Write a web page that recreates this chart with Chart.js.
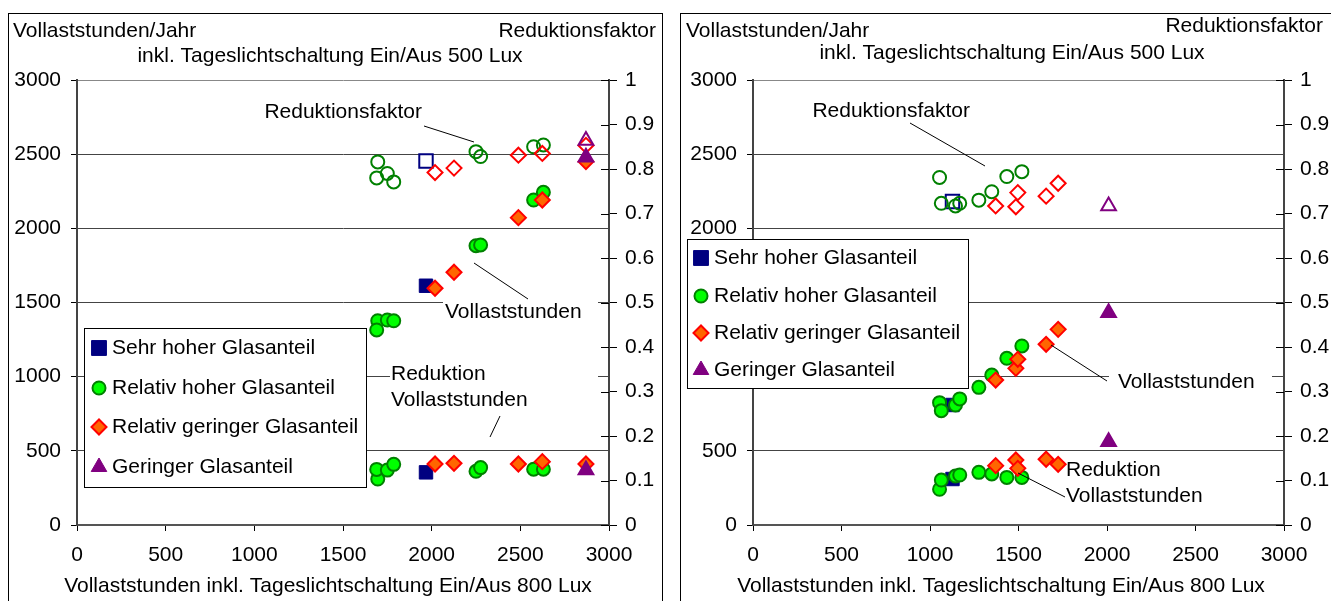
<!DOCTYPE html>
<html lang="de">
<head>
<meta charset="utf-8">
<title>Vollaststunden und Reduktionsfaktor</title>
<script src="https://cdn.jsdelivr.net/npm/chart.js@4.4.1/dist/chart.umd.min.js"></script>
<style>
  html, body { margin: 0; padding: 0; background: #fff; }
  body { width: 1331px; height: 601px; overflow: hidden; position: relative; }
  .panel { position: absolute; top: 13px; width: 655px; height: 620px; border: 1px solid #000; box-sizing: border-box; background: #fff; }
  #panelLeft { left: 8px; }
  #panelRight { left: 680px; }
  .panel canvas { position: absolute; left: 0; top: 0; }
</style>
</head>
<body>
<div class="panel" id="panelLeft"><canvas id="chartLeft" width="653" height="587"></canvas></div>
<div class="panel" id="panelRight"><canvas id="chartRight" width="653" height="587"></canvas></div>
<script>
const groups = ['Sehr hoher Glasanteil', 'Relativ hoher Glasanteil', 'Relativ geringer Glasanteil', 'Geringer Glasanteil'];
const hourTicks = [0, 500, 1000, 1500, 2000, 2500, 3000];
const factorTicks = [0, 0.1, 0.2, 0.3, 0.4, 0.5, 0.6, 0.7, 0.8, 0.9, 1];

// links: x = Vollaststunden bei 800 Lux, je Gruppe eine Liste
const leftX    = [[1968], [1696, 1690, 1750, 1786, 2250, 2276, 2575, 2630], [2019, 2126, 2489, 2624, 2870], [2870]];
const leftVoll = [[1613], [1377, 1315, 1382, 1377, 1883, 1888, 2191, 2243], [1596, 1704, 2072, 2191, 2450], [2480]];
const leftRed  = [[355],  [310, 375, 370, 409, 362, 387, 376, 376],         [411, 416, 411, 427, 411],      [371]];
const leftFak  = [[0.818], [0.816, 0.780, 0.790, 0.771, 0.839, 0.828, 0.850, 0.854], [0.792, 0.802, 0.831, 0.835, 0.853], [0.864]];

// rechts
const rightX    = [[1127], [1054, 1064, 1144, 1168, 1276, 1349, 1434, 1519], [1371, 1485, 1496, 1656, 1724], [2009]];
const rightVoll = [[809],  [825, 771, 809, 850, 928, 1011, 1124, 1207],     [977, 1056, 1117, 1218, 1319],  [1431]];
const rightRed  = [[310],  [241, 303, 330, 337, 355, 344, 321, 321],        [400, 438, 382, 443, 409],      [562]];
const rightFak  = [[0.727], [0.781, 0.723, 0.717, 0.723, 0.730, 0.749, 0.783, 0.794], [0.717, 0.715, 0.747, 0.739, 0.768], [0.717]];

const FONT = "'Liberation Sans', Arial, sans-serif";
const FS = 21;

const styles = [
  { shape: 'rect',     r: 9.5, fill: '#000080', line: '#000080', order: 3, lr: 10.5 },
  { shape: 'circle',   r: 6.5, fill: '#00ff00', line: '#008000', order: 2, lr: 6.5 },
  { shape: 'rectRot',  r: 7.5, fill: '#ff6600', line: '#ff0000', order: 1, lr: 7.5 },
  { shape: 'triangle', r: 8.5, fill: '#800080', line: '#800080', order: 0, lr: 9 },
];

function buildDatasets(xs, voll, red, fak) {
  const out = [];
  groups.forEach((name, g) => {
    const st = styles[g];
    const pts = vals => xs[g].map((x, i) => ({ x: x, y: vals[g][i] }));
    const base = {
      pointStyle: st.shape, pointRadius: st.r, pointHoverRadius: st.r,
      order: st.order, clip: false
    };
    out.push(Object.assign({ label: name, data: pts(voll), yAxisID: 'y',
      pointBackgroundColor: st.fill, pointBorderColor: st.line, pointBorderWidth: g === 0 ? 1 : 2 }, base));
    out.push(Object.assign({ label: name + ' (Reduktion)', data: pts(red), yAxisID: 'y',
      pointBackgroundColor: st.fill, pointBorderColor: st.line, pointBorderWidth: g === 0 ? 1 : 2 }, base));
    out.push(Object.assign({ label: name + ' (Reduktionsfaktor)', data: pts(fak), yAxisID: 'y2',
      pointBackgroundColor: 'rgba(0,0,0,0)', pointBorderColor: g === 2 ? '#ff0000' : st.line, pointBorderWidth: 2 }, base));
  });
  return out;
}

function makeScales(leftW, rightW) {
  const font = { family: FONT, size: FS };
  return {
    x: {
      type: 'linear', min: 0, max: 3000,
      afterBuildTicks: s => { s.ticks = hourTicks.map(v => ({ value: v })); },
      afterFit: s => { s.height = 76; },
      ticks: { callback: v => String(v), padding: 12, color: '#000', font: font, maxRotation: 0, autoSkip: false },
      grid: { drawOnChartArea: false, tickLength: 6, tickColor: '#000', tickWidth: 1 },
      border: { color: '#555', width: 2 }
    },
    y: {
      type: 'linear', position: 'left', min: 0, max: 3000,
      afterBuildTicks: s => { s.ticks = hourTicks.map(v => ({ value: v })); },
      afterFit: s => { s.width = leftW; },
      ticks: { callback: v => String(v), padding: 10, color: '#000', font: font },
      grid: { color: c => c.tick && c.tick.value === 3000 ? '#888' : '#444', tickLength: 6, tickColor: '#000', tickWidth: 1 },
      border: { color: '#444', width: 2 }
    },
    y2: {
      type: 'linear', position: 'right', min: 0, max: 1,
      afterBuildTicks: s => { s.ticks = factorTicks.map(v => ({ value: v })); },
      afterFit: s => { s.width = rightW; },
      ticks: { callback: v => String(v), padding: 8, color: '#000', font: font },
      grid: { drawOnChartArea: false, tickLength: 8, tickColor: '#000', tickWidth: 1 },
      border: { color: '#444', width: 2 }
    }
  };
}

// Beschriftungen, Hinweistexte, Legende und innere Striche der rechten Achse
const overlay = {
  id: 'overlay',
  afterDraw(chart, args, o) {
    const ctx = chart.ctx;
    ctx.save();
    ctx.font = FS + 'px ' + FONT;
    ctx.textBaseline = 'middle';
    ctx.lineWidth = 1;
    ctx.strokeStyle = '#000';

    const y2 = chart.scales.y2;
    y2.ticks.forEach(t => {
      const py = Math.round(y2.getPixelForValue(t.value)) + 0.5;
      ctx.beginPath(); ctx.moveTo(y2.left - 8, py); ctx.lineTo(y2.left, py); ctx.stroke();
    });

    ctx.fillStyle = '#000';
    o.texts.forEach(t => { ctx.textAlign = t.align || 'left'; ctx.fillText(t.text, t.x, t.y); });

    o.notes.forEach(n => {
      if (n.box) { ctx.fillStyle = '#fff'; ctx.fillRect(n.box[0], n.box[1], n.box[2], n.box[3]); }
      ctx.fillStyle = '#000';
      ctx.textAlign = n.align || 'left';
      n.lines.forEach((s, i) => ctx.fillText(s, n.x, n.y + i * 26.5));
      ctx.beginPath(); ctx.moveTo(n.lead[0], n.lead[1]); ctx.lineTo(n.lead[2], n.lead[3]); ctx.stroke();
    });

    const L = o.legend;
    ctx.fillStyle = '#fff';
    ctx.fillRect(L.x, L.y, L.w, L.h);
    ctx.strokeStyle = '#000';
    ctx.strokeRect(L.x + 0.5, L.y + 0.5, L.w - 1, L.h - 1);
    groups.forEach((name, g) => {
      const st = styles[g];
      ctx.fillStyle = st.fill;
      ctx.strokeStyle = st.line;
      ctx.lineWidth = g === 1 || g === 2 ? 2 : 1;
      Chart.helpers.drawPoint(ctx, { pointStyle: st.shape, radius: st.lr, rotation: 0, borderWidth: ctx.lineWidth }, L.markX, L.rows[g]);
      ctx.fillStyle = '#000';
      ctx.textAlign = 'left';
      ctx.fillText(name, L.textX, L.rows[g]);
    });
    ctx.restore();
  }
};

function makeChart(id, xs, voll, red, fak, leftW, rightW, notes) {
  return new Chart(document.getElementById(id), {
    type: 'scatter',
    data: { datasets: buildDatasets(xs, voll, red, fak) },
    options: {
      responsive: false,
      animation: false,
      events: [],
      layout: { padding: { top: 66, left: 0, right: 0, bottom: 0 } },
      scales: makeScales(leftW, rightW),
      plugins: { legend: { display: false }, tooltip: { enabled: false }, overlay: notes }
    },
    plugins: [overlay]
  });
}

makeChart('chartLeft', leftX, leftVoll, leftRed, leftFak, 68, 53, {
  texts: [
    { text: 'Vollaststunden/Jahr', x: 4, y: 17 },
    { text: 'Reduktionsfaktor', x: 647, y: 17, align: 'right' },
    { text: 'inkl. Tageslichtschaltung Ein/Aus 500 Lux', x: 321, y: 42, align: 'center' },
    { text: 'Vollaststunden inkl. Tageslichtschaltung Ein/Aus 800 Lux', x: 319, y: 572, align: 'center' }
  ],
  notes: [
    { lines: ['Reduktionsfaktor'], x: 413, y: 98, align: 'right', lead: [415, 112, 465, 128] },
    { lines: ['Vollaststunden'], x: 436, y: 298, box: [434, 285, 155, 27], lead: [465, 249, 519, 285] },
    { lines: ['Reduktion', 'Vollaststunden'], x: 382, y: 360, box: [381, 348, 208, 52], lead: [491, 402, 481, 423] }
  ],
  legend: { x: 75, y: 314, w: 283, h: 160, rows: [334, 374, 413, 453], markX: 90, textX: 103 }
});

makeChart('chartRight', rightX, rightVoll, rightRed, rightFak, 72, 50, {
  texts: [
    { text: 'Vollaststunden/Jahr', x: 5, y: 17 },
    { text: 'Reduktionsfaktor', x: 642, y: 12, align: 'right' },
    { text: 'inkl. Tageslichtschaltung Ein/Aus 500 Lux', x: 331, y: 39, align: 'center' },
    { text: 'Vollaststunden inkl. Tageslichtschaltung Ein/Aus 800 Lux', x: 320, y: 572, align: 'center' }
  ],
  notes: [
    { lines: ['Reduktionsfaktor'], x: 289, y: 97, align: 'right', lead: [229, 109, 304, 152] },
    { lines: ['Vollaststunden'], x: 437, y: 368, box: [428, 352, 163, 28], lead: [370, 331, 426, 367] },
    { lines: ['Reduktion', 'Vollaststunden'], x: 385, y: 456, lead: [337, 459, 384, 483] }
  ],
  legend: { x: 6, y: 225, w: 282, h: 150, rows: [244, 282, 319, 356], markX: 20, textX: 33 }
});
</script>
</body>
</html>
